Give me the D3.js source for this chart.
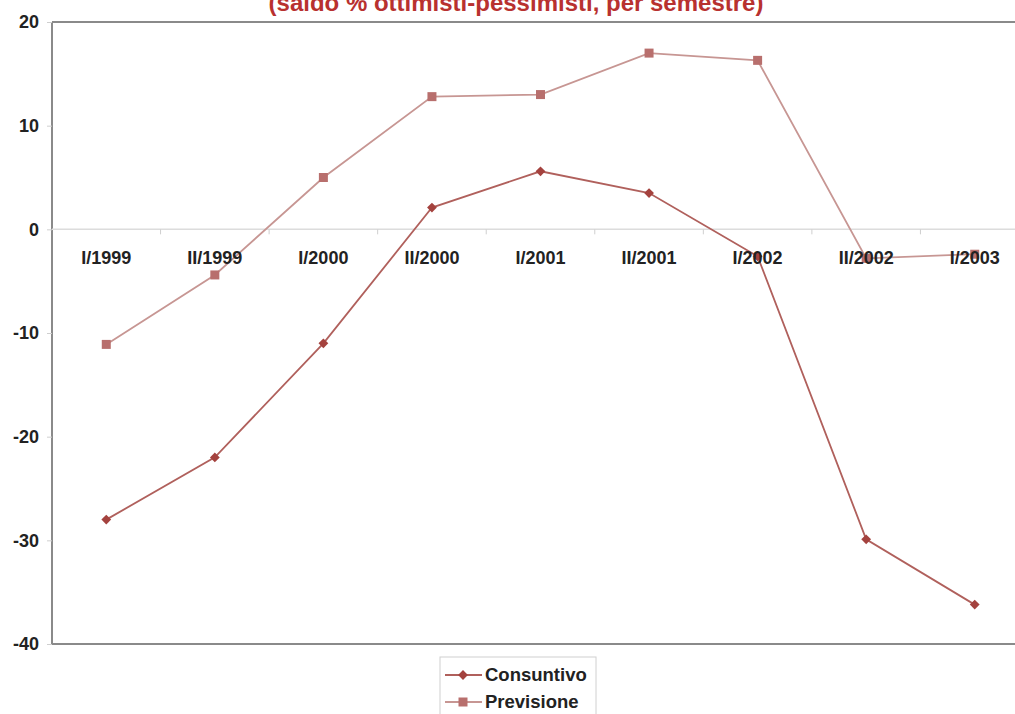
<!DOCTYPE html>
<html>
<head>
<meta charset="utf-8">
<script src="https://cdn.jsdelivr.net/npm/d3@7"></script>
<style>
  html, body { margin: 0; padding: 0; background: #fff; }
  svg { display: block; }
  text { font-family: "Liberation Sans", Arial, sans-serif; }
</style>
</head>
<body>
<svg id="chart" width="1015" height="714"></svg>
<script>
// Semesters on the category axis
const semesters = ["I/1999", "II/1999", "I/2000", "II/2000", "I/2001", "II/2001", "I/2002", "II/2002", "I/2003"];
// Balance of optimists minus pessimists (%)
const consuntivo = [-28.0, -22.0, -11.0, 2.1, 5.6, 3.5, -2.6, -29.9, -36.2];
const previsione = [-11.1, -4.4, 5.0, 12.8, 13.0, 17.0, 16.3, -2.8, -2.4];
const yTicks = [20, 10, 0, -10, -20, -30, -40];
const titleText = "(saldo % ottimisti-pessimisti, per semestre)";
const seriesNames = ["Consuntivo", "Previsione"];

const svg = d3.select("#chart");
const plot = { left: 52, right: 1029, top: 22, bottom: 644 };

const x = d3.scaleBand().domain(semesters).range([plot.left, plot.right]).padding(0);
const y = d3.scaleLinear().domain([-40, 20]).range([plot.bottom, plot.top]);
const cx = d => x(d) + x.bandwidth() / 2;

// Title, partly above the top edge
svg.append("text")
  .attr("x", 516).attr("y", 11)
  .attr("text-anchor", "middle")
  .attr("font-size", 24).attr("font-weight", "bold")
  .attr("fill", "#b8312f")
  .text(titleText);

// Plot frame: top, left, bottom
const frame = svg.append("g").attr("stroke", "#8a8a8a").attr("stroke-width", 2).attr("fill", "none");
frame.append("line").attr("x1", plot.left).attr("x2", 1015).attr("y1", plot.top).attr("y2", plot.top);
frame.append("line").attr("x1", plot.left).attr("x2", 1015).attr("y1", plot.bottom).attr("y2", plot.bottom);
frame.append("line").attr("x1", plot.left).attr("x2", plot.left).attr("y1", plot.top).attr("y2", plot.bottom);

// Value axis
const yAxis = svg.append("g")
  .attr("transform", `translate(${plot.left},0)`)
  .call(d3.axisLeft(y).tickValues(yTicks).tickSize(5).tickPadding(8).tickFormat(d => String(d)));
yAxis.select(".domain").remove();
yAxis.selectAll(".tick line").attr("stroke", "#cfcfcf");
yAxis.selectAll(".tick text")
  .attr("font-size", 18).attr("font-weight", "bold").attr("fill", "#222")
  .attr("font-family", "'Liberation Sans', Arial, sans-serif");

// Category axis along the zero line
const zeroY = y(0);
const xAxisG = svg.append("g");
xAxisG.append("line")
  .attr("x1", plot.left).attr("x2", 1015)
  .attr("y1", zeroY).attr("y2", zeroY)
  .attr("stroke", "#dcdcdc").attr("stroke-width", 1.5);
xAxisG.selectAll("line.sep")
  .data(semesters.slice(1))
  .join("line")
  .attr("class", "sep")
  .attr("x1", d => x(d)).attr("x2", d => x(d))
  .attr("y1", zeroY).attr("y2", zeroY + 5)
  .attr("stroke", "#cfcfcf");

// Series lines and markers (diamond = square turned 45°)
const line = d3.line().x((d, i) => cx(semesters[i])).y(d => y(d));

const series = [
  { name: seriesNames[0], values: consuntivo, line: "#b0605c", marker: "#a4423e", shape: d3.symbolSquare, size: 48, rotate: 45 },
  { name: seriesNames[1], values: previsione, line: "#c79693", marker: "#b86f6d", shape: d3.symbolSquare, size: 81, rotate: 0 }
];

series.forEach(s => {
  svg.append("path")
    .datum(s.values)
    .attr("d", line)
    .attr("fill", "none")
    .attr("stroke", s.line)
    .attr("stroke-width", 1.8);
  svg.append("g").selectAll("path")
    .data(s.values)
    .join("path")
    .attr("transform", (d, i) => `translate(${cx(semesters[i])},${y(d)}) rotate(${s.rotate})`)
    .attr("d", d3.symbol().type(s.shape).size(s.size))
    .attr("fill", s.marker);
});

// Category labels drawn over the lines
svg.append("g").selectAll("text")
  .data(semesters)
  .join("text")
  .attr("x", d => cx(d))
  .attr("y", zeroY + 35)
  .attr("text-anchor", "middle")
  .attr("font-size", 18).attr("font-weight", "bold").attr("fill", "#222")
  .text(d => d);

// Legend
const legend = svg.append("g").attr("transform", "translate(440,657)");
legend.append("rect")
  .attr("x", 0).attr("y", 0).attr("width", 156).attr("height", 60)
  .attr("fill", "#fff").attr("stroke", "#d0d0d0");
series.forEach((s, i) => {
  const ly = 18 + i * 27;
  legend.append("line")
    .attr("x1", 5).attr("x2", 42).attr("y1", ly).attr("y2", ly)
    .attr("stroke", s.line).attr("stroke-width", 1.8);
  legend.append("path")
    .attr("transform", `translate(23,${ly}) rotate(${s.rotate})`)
    .attr("d", d3.symbol().type(s.shape).size(s.size))
    .attr("fill", s.marker);
  legend.append("text")
    .attr("x", 45).attr("y", ly + 6)
    .attr("font-size", 18.5).attr("font-weight", "bold").attr("fill", "#222")
    .text(s.name);
});
</script>
</body>
</html>
